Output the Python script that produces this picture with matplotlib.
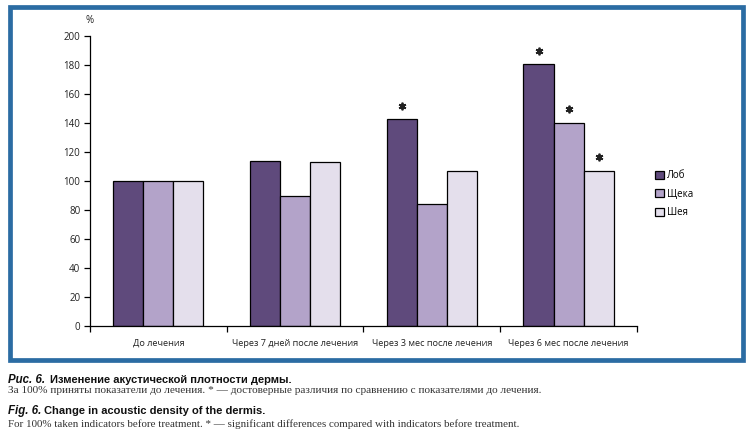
import matplotlib
matplotlib.use("Agg")
import matplotlib.pyplot as plt
from matplotlib.patches import Rectangle
import numpy as np

categories = ["До лечения", "Через 7 дней после лечения", "Через 3 мес после лечения", "Через 6 мес после лечения"]
series_names = ["Лоб", "Щека", "Шея"]
lob = [100, 113.5, 142.5, 180.5]
scheka = [100, 90, 84, 140]
sheya = [100, 113, 107, 107]
# significance flags
sig_lob = [False, False, True, True]
sig_scheka = [False, False, False, True]
sig_sheya = [False, False, False, True]
yticks = [0, 20, 40, 60, 80, 100, 120, 140, 160, 180, 200]

colors = ["#5f4a7c", "#b3a3c9", "#e4dfec"]
font = ["Open Sans", "DejaVu Sans"]

fig = plt.figure(figsize=(7.5, 4.37), dpi=100)
fig.patch.set_facecolor("white")

ax = fig.add_axes([0.12, 0.254, 0.7293, 0.6636])
x = np.arange(len(categories))
w = 0.22
for i, (vals, sig) in enumerate(zip([lob, scheka, sheya], [sig_lob, sig_scheka, sig_sheya])):
    pos = x + (i - 1) * w
    ax.bar(pos, vals, width=w, color=colors[i], edgecolor="black", linewidth=0.9,
           label=series_names[i], zorder=2)
    sp = [p for p, s in zip(pos, sig) if s]
    sv = [v + 9.4 for v, s in zip(vals, sig) if s]
    ax.plot(sp, sv, linestyle="none", marker=(6, 2, 0), markersize=5.5,
            markeredgewidth=1.3, color="#222222", clip_on=False)

ax.set_xlim(-0.5, len(categories) - 0.5)
ax.set_ylim(0, 200)
ax.set_yticks(yticks)
ax.set_yticklabels([str(t) for t in yticks], family=font, fontsize=7, color="#222222")
ax.set_xticks(x)
ax.set_xticklabels(categories, family=font, fontsize=6.6, color="#222222")
ax.tick_params(axis="x", which="major", length=0, pad=9)
ax.set_xticks(np.arange(-0.5, len(categories)), minor=True)
ax.tick_params(axis="x", which="minor", length=4, width=0.9, direction="out")
ax.tick_params(axis="y", length=4, width=0.9, direction="out", pad=3)
for s in ["top", "right"]:
    ax.spines[s].set_visible(False)
for s in ["left", "bottom"]:
    ax.spines[s].set_linewidth(0.9)

ax.text(0, 1.035, "%", transform=ax.transAxes, ha="center", va="bottom",
        fontsize=7, family=font, color="#222222")

leg = ax.legend(loc="upper left", bbox_to_anchor=(0.862, 0.63), bbox_transform=fig.transFigure,
                frameon=False, handlelength=0.85, handleheight=0.85, handletextpad=0.35,
                labelspacing=0.75, prop={"family": font, "size": 7})

# blue frame
fig.add_artist(Rectangle((10 / 750, 1 - 360 / 437), 733 / 750, 353 / 437,
                         transform=fig.transFigure, fill=False, edgecolor="#2b6ca3",
                         linewidth=3.4))

serif = ["Liberation Serif", "DejaVu Serif"]
sans = ["Liberation Sans", "DejaVu Sans"]
y1 = 1 - 380 / 437
fig.text(8 / 750, y1, "Рис. 6.", fontsize=8.3, family=sans, weight="bold", style="italic",
         va="center", color="#111111")
fig.text(50 / 750, y1, "Изменение акустической плотности дермы.", fontsize=8.05, family=sans,
         weight="bold", va="center", color="#111111")
fig.text(8 / 750, 1 - 390.5 / 437,
         "За 100% приняты показатели до лечения. * — достоверные различия по сравнению с показателями до лечения.",
         fontsize=8.1, family=serif, va="center", color="#333333")
y3 = 1 - 411 / 437
fig.text(8 / 750, y3, "Fig. 6.", fontsize=8.3, family=sans, weight="bold", style="italic",
         va="center", color="#111111")
fig.text(44 / 750, y3, "Change in acoustic density of the dermis.", fontsize=8.05, family=sans,
         weight="bold", va="center", color="#111111")
fig.text(8 / 750, 1 - 424.5 / 437,
         "For 100% taken indicators before treatment. * — significant differences compared with indicators before treatment.",
         fontsize=7.95, family=serif, va="center", color="#333333")

fig.savefig("out.png", dpi=100, facecolor="white")
